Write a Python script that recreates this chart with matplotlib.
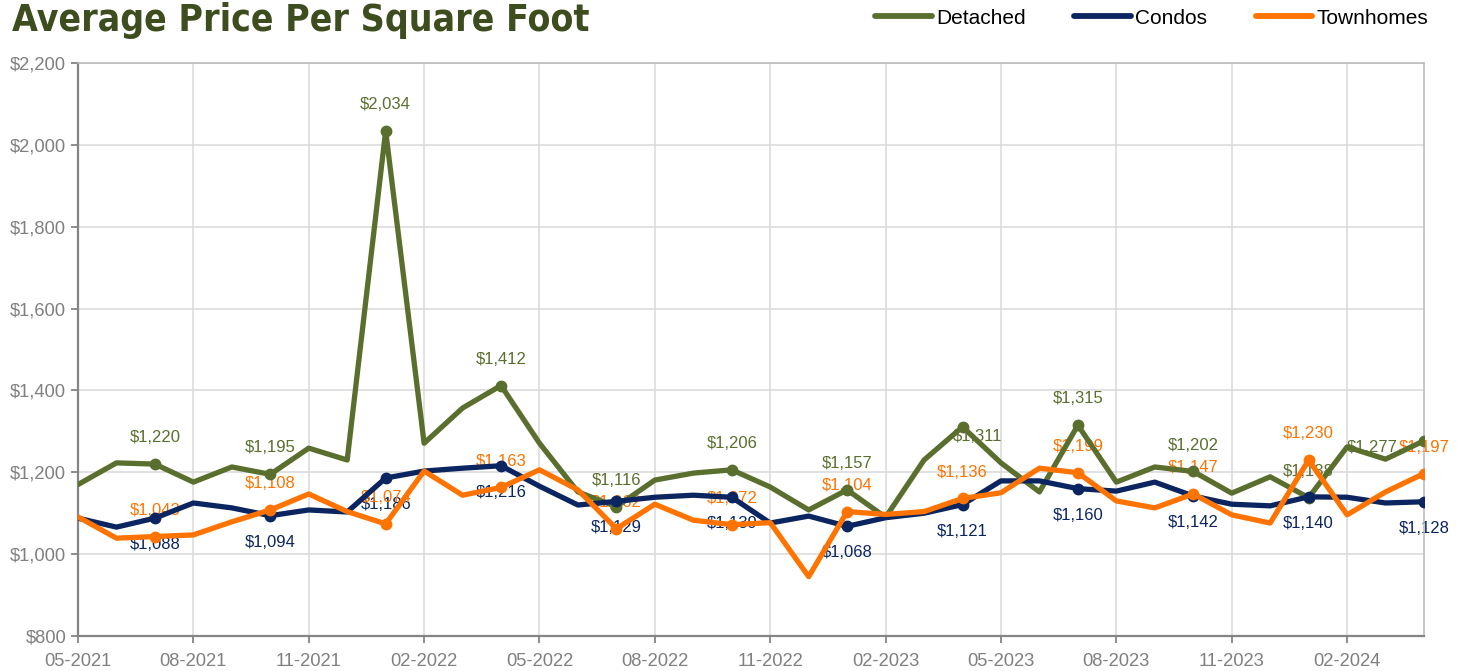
import matplotlib
matplotlib.use('Agg')
from matplotlib import pyplot as plt
from matplotlib import font_manager
from matplotlib.lines import Line2D
from matplotlib.ticker import FuncFormatter, MultipleLocator
import numpy as np
import pandas as pd

# monthly values, 05-2021 .. 04-2024
months = pd.date_range('2021-05-01', periods=36, freq='MS')
month_labels = [m.strftime('%m-%Y') for m in months]

detached = [1170, 1223, 1220, 1176, 1213, 1195, 1259, 1230, 2034, 1271, 1357, 1412,
            1271, 1152, 1116, 1181, 1198, 1206, 1164, 1108, 1157, 1090, 1230, 1311,
            1223, 1152, 1315, 1176, 1213, 1202, 1149, 1189, 1138, 1262, 1232, 1277]
condos = [1088, 1066, 1088, 1125, 1113, 1094, 1108, 1103, 1186, 1203, 1210, 1216,
          1166, 1120, 1129, 1139, 1144, 1139, 1076, 1093, 1068, 1089, 1100, 1121,
          1179, 1179, 1160, 1154, 1176, 1142, 1122, 1118, 1140, 1139, 1125, 1128]
townhomes = [1091, 1039, 1043, 1047, 1079, 1108, 1147, 1104, 1074, 1203, 1144, 1163,
             1206, 1157, 1062, 1122, 1083, 1072, 1077, 945, 1104, 1097, 1104, 1136,
             1150, 1210, 1199, 1130, 1113, 1147, 1096, 1076, 1230, 1096, 1152, 1197]

series = [
    ('Detached', detached, '#5a6e2e', 1),
    ('Condos', condos, '#0b2560', -1),
    ('Townhomes', townhomes, '#ff7300', 1),
]

# a couple of labels were nudged in the original to dodge each other
label_nudge = {('Detached', 23): (11, -26), ('Detached', 35): (-37, -24)}

W, H = 1466, 671
fig = plt.figure(figsize=(W / 100, H / 100), dpi=100)
ax = fig.add_axes([78 / W, 1 - 636 / H, (1424 - 78) / W, (636 - 63) / H])

x = np.arange(len(months))
labelled = list(range(2, len(months), 3))

for name, vals, col, side in series:
    ax.plot(x, vals, color=col, lw=3.8, solid_capstyle='round', solid_joinstyle='round',
            marker='o', markevery=labelled, markersize=7.5, zorder=3)
    for i in labelled:
        dx, dy = label_nudge.get((name, i), (0, 0))
        ax.annotate('${:,}'.format(vals[i]), (x[i], vals[i]),
                    xytext=(dx, side * 19 + dy), textcoords='offset points',
                    ha='center', va='center', color=col, fontsize=12,
                    family='Liberation Sans', zorder=2, annotation_clip=False)

ax.set_xlim(0, len(months) - 1)
ax.set_ylim(800, 2200)
ax.yaxis.set_major_locator(MultipleLocator(200))
ax.yaxis.set_major_formatter(FuncFormatter(lambda v, p: '${:,.0f}'.format(v)))
ax.set_xticks(x[::3])
ax.set_xticklabels(month_labels[::3])

ax.grid(True, color='#d9d9d9', lw=1.1)
ax.set_axisbelow(True)
for s in ['left', 'bottom']:
    ax.spines[s].set_color('#858585')
    ax.spines[s].set_linewidth(1.6)
for s in ['top', 'right']:
    ax.spines[s].set_color('#b8b8b8')
    ax.spines[s].set_linewidth(1.1)
ax.tick_params(colors='#858585', labelcolor='#808080', labelsize=13.2, length=5, width=1.3)
ax.tick_params(axis='x', pad=7)
for lbl in ax.get_xticklabels() + ax.get_yticklabels():
    lbl.set_family('Liberation Sans')

# title: condensed bold if one is around, otherwise squeeze the size to fit
cond = font_manager.FontProperties(family='DejaVu Sans', stretch='condensed', weight='bold')
if 'Condensed' in font_manager.findfont(cond, fallback_to_default=True):
    title_font = cond
else:
    title_font = font_manager.FontProperties(family='Liberation Sans', weight='bold')
title = fig.text(12 / W, 1 - 31 / H, 'Average Price Per Square Foot',
                 fontproperties=title_font, color='#3d4d1e', va='baseline', ha='left')
title.set_fontsize(36)
r = fig.canvas.get_renderer()
tw = title.get_window_extent(r).width
title.set_fontsize(min(42, 36 * 578 / tw))

handles = [Line2D([], [], color=c, lw=4.2, solid_capstyle='round') for _, _, c, _ in series]
fig.legend(handles, [n for n, _, _, _ in series], loc='center right',
           bbox_to_anchor=(1428 / W, 1 - 18 / H), ncol=3,
           frameon=False, handlelength=2.7, handletextpad=0.2, columnspacing=2.35,
           borderaxespad=0, borderpad=0,
           prop={'family': 'Liberation Sans', 'size': 15})

plt.savefig('out.png', dpi=100)
